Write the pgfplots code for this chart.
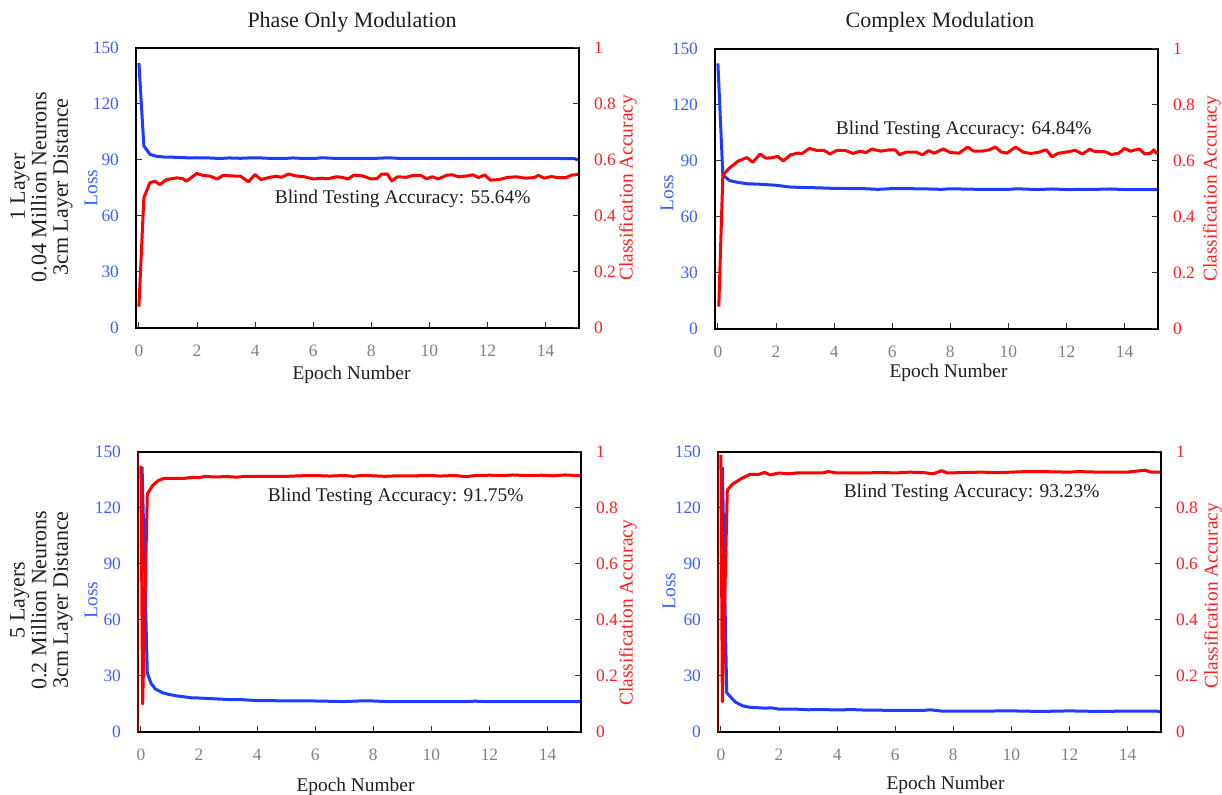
\documentclass[border=0pt]{standalone}
\usepackage{pgfplots}
\pgfplotsset{compat=1.18}
\usepackage{fontspec}
\setmainfont{Liberation Serif}
\definecolor{lossblue}{RGB}{30,60,255}
\definecolor{losstext}{RGB}{60,95,255}
\definecolor{accred}{RGB}{255,0,0}
\definecolor{acctext}{RGB}{255,30,30}
\definecolor{darkred}{RGB}{120,0,0}
\definecolor{txt}{RGB}{30,30,30}
\pgfplotsset{
 common/.style={scale only axis, width=221.5pt, height=140pt, xmin=-0.1, xmax=15.15,
   anchor=south west, tick align=inside, major tick length=3pt,
   tick style={black!80, line width=0.5pt},
   /pgf/number format/assume math mode=true,
   ticklabel style={font=\rmfamily\fontsize{8.7}{10}\selectfont},
   xticklabel={\textrm{\pgfmathprintnumber{\tick}}}, yticklabel={\textrm{\pgfmathprintnumber{\tick}}},
   clip=false},
 lossax/.style={common, ymin=0, ymax=150, ytick={0,30,60,90,120,150}, xtick={0,2,...,14},
   xtick pos=bottom, ytick pos=left, axis line style={line width=1.2pt, black},
   yticklabel style={text=losstext, xshift=-5pt}, xticklabel style={text=gray, yshift=-5pt}},
 accax/.style={common, ymin=0, ymax=1, ytick={0,0.2,0.4,0.6,0.8,1},
   axis y line*=right, axis x line=none, axis line style={line width=1.2pt, black},
   yticklabel style={text=acctext, xshift=4pt}},
 lossline/.style={lossblue, line width=1.5pt, line join=round},
 accline/.style={accred, line width=1.5pt, line join=round},
}
\newcommand{\lab}{\fontsize{9.7}{11}\selectfont}
\newcommand{\bigf}{\fontsize{11}{10.8}\selectfont}
\begin{document}
\begin{tikzpicture}
\useasboundingbox (0,0) rectangle (611pt,397.5pt);
% ---------------- TOP LEFT ----------------
\begin{axis}[lossax, name=tl, at={(68pt,233.5pt)}]
\addplot[lossline] coordinates {(0,142) (0.17,97.5) (0.38,93) (0.6,92) (0.85,91.6) (1.1,91.5) (1.4,91.4) (1.7,91.1) (2,91.2) (2.4,91.1) (2.8,90.8) (3.1,91.1) (3.5,90.9) (3.8,91.1) (4.2,91.1) (4.6,90.8) (5,90.8) (5.3,91.1) (5.7,90.8) (6.1,90.9) (6.3,91.2) (6.7,90.9) (7.2,90.9) (7.7,90.9) (8.2,90.9) (8.6,91.2) (9,90.8) (9.5,90.8) (10,90.8) (10.5,90.8) (11,90.8) (11.5,90.8) (12,90.8) (12.5,90.8) (13,90.8) (13.5,90.8) (14,90.8) (14.5,90.8) (15,90.7) (15.12,90.0)};
\node[txt, font=\lab] at (axis cs:9.08,69.4) {Blind Testing Accuracy: 55.64\%};
\end{axis}
\begin{axis}[accax, at={(68pt,233.5pt)}]
\addplot[accline] coordinates {(0,0.076) (0.17,0.465) (0.38,0.519) (0.55,0.524) (0.72,0.512) (0.95,0.53) (1.3,0.536) (1.5,0.534) (1.64,0.524) (1.99,0.552) (2.2,0.545) (2.45,0.542) (2.7,0.532) (2.9,0.545) (3.2,0.543) (3.5,0.542) (3.77,0.522) (4.0,0.548) (4.2,0.53) (4.5,0.538) (4.75,0.542) (4.9,0.538) (5.15,0.55) (5.4,0.543) (5.7,0.54) (6.0,0.532) (6.3,0.535) (6.5,0.533) (6.8,0.54) (7.0,0.538) (7.2,0.532) (7.4,0.546) (7.7,0.543) (8.0,0.532) (8.2,0.534) (8.35,0.549) (8.55,0.55) (8.7,0.525) (8.9,0.54) (9.2,0.538) (9.4,0.544) (9.7,0.545) (9.9,0.533) (10.1,0.54) (10.3,0.532) (10.6,0.546) (10.8,0.547) (11.0,0.54) (11.3,0.543) (11.5,0.547) (11.7,0.537) (11.9,0.547) (12.1,0.528) (12.4,0.53) (12.7,0.538) (13.0,0.54) (13.3,0.535) (13.6,0.537) (13.75,0.545) (13.95,0.535) (14.2,0.541) (14.4,0.537) (14.7,0.537) (14.9,0.546) (15.12,0.548)};
\end{axis}
% ---------------- TOP RIGHT ----------------
\begin{axis}[lossax, name=tr, at={(357.5pt,233pt)}]
\addplot[lossline] coordinates {(0,142.3) (0.17,82.5) (0.4,79.5) (0.7,78.5) (1.0,77.8) (1.5,77.5) (2,77) (2.5,76) (3,75.8) (3.5,75.6) (4,75.3) (5,75.2) (5.5,74.8) (6,75.2) (7,75.1) (7.7,74.8) (8,75.1) (9,74.8) (10,74.8) (10.3,75.1) (11,74.7) (11.5,75.0) (12,74.7) (13,74.8) (13.5,75) (14,74.7) (15,74.7) (15.12,74.7)};
\node[txt, font=\lab] at (axis cs:8.46,106.6) {Blind Testing Accuracy: 64.84\%};
\end{axis}
\begin{axis}[accax, at={(357.5pt,233pt)}]
\addplot[accline] coordinates {(0.03,0.08) (0.17,0.55) (0.4,0.575) (0.7,0.6) (1.0,0.612) (1.2,0.595) (1.45,0.625) (1.65,0.61) (1.9,0.612) (2.05,0.617) (2.25,0.6) (2.5,0.622) (2.75,0.628) (2.9,0.627) (3.15,0.645) (3.4,0.638) (3.65,0.638) (3.85,0.625) (4.1,0.638) (4.4,0.637) (4.65,0.627) (4.9,0.635) (5.1,0.63) (5.3,0.643) (5.6,0.635) (5.9,0.64) (6.1,0.64) (6.25,0.623) (6.5,0.632) (6.8,0.632) (7.05,0.622) (7.25,0.637) (7.45,0.628) (7.75,0.643) (8.0,0.63) (8.3,0.628) (8.6,0.65) (8.8,0.635) (9.1,0.635) (9.35,0.64) (9.55,0.65) (9.75,0.632) (9.95,0.628) (10.25,0.65) (10.5,0.632) (10.75,0.627) (11.0,0.63) (11.3,0.64) (11.5,0.615) (11.7,0.627) (12.0,0.632) (12.3,0.638) (12.55,0.625) (12.8,0.642) (13.0,0.633) (13.3,0.634) (13.55,0.623) (13.8,0.628) (14.0,0.645) (14.2,0.635) (14.5,0.643) (14.7,0.625) (14.9,0.628) (15.0,0.64) (15.12,0.625)};
\end{axis}
% ---------------- BOTTOM LEFT ----------------
\begin{axis}[lossax, name=bl, at={(69pt,31.5pt)}]
\addplot[lossline] coordinates {(0.04,142) (0.22,31.5) (0.35,26) (0.5,23) (0.75,21) (1.0,20) (1.25,19.3) (1.5,18.8) (1.75,18.3) (2,18.2) (2.5,17.8) (3,17.4) (3.5,17.3) (4,16.8) (4.5,16.8) (5,16.6) (6,16.6) (7,16.3) (7.5,16.6) (8,16.6) (8.6,16.2) (9,16.2) (10,16.2) (11,16.2) (11.5,16.5) (12,16.2) (13,16.2) (14,16.2) (15.12,16.2)};
\node[txt, font=\lab] at (axis cs:8.77,125.9) {Blind Testing Accuracy: 91.75\%};
\end{axis}
\begin{axis}[accax, at={(69pt,31.5pt)}]
\addplot[accline] coordinates {(0,0.95) (0.06,0.1) (0.22,0.85) (0.4,0.88) (0.6,0.898) (0.8,0.906) (1.0,0.906) (1.5,0.906) (1.8,0.91) (2.0,0.908) (2.2,0.913) (2.5,0.911) (3,0.912) (3.3,0.91) (3.6,0.913) (4,0.913) (5,0.913) (5.5,0.915) (6,0.916) (6.5,0.914) (7,0.916) (7.3,0.913) (7.6,0.916) (8,0.915) (8.4,0.913) (8.8,0.915) (9.5,0.915) (10,0.916) (10.3,0.914) (10.8,0.916) (11.2,0.912) (11.5,0.916) (12,0.917) (12.5,0.916) (12.8,0.918) (13.2,0.916) (13.8,0.917) (14.2,0.915) (14.6,0.918) (15.12,0.915)};
\end{axis}
% ---------------- BOTTOM RIGHT ----------------
\begin{axis}[lossax, name=br, at={(359pt,31.5pt)}]
\addplot[lossline] coordinates {(0.05,142) (0.2,21) (0.35,18.5) (0.5,16) (0.75,14) (1.0,13.2) (1.5,12.8) (1.75,12.9) (2,12.2) (2.5,12.3) (3,11.9) (3.5,12) (4,11.8) (4.5,12) (5,11.7) (6,11.6) (7,11.6) (7.2,11.9) (7.6,11.2) (8,11.2) (9,11.2) (10,11.3) (11,11) (12,11.3) (13,11) (14,11.2) (15,11.2) (15.12,10.8)};
\node[txt, font=\lab] at (axis cs:8.63,128) {Blind Testing Accuracy: 93.23\%};
\end{axis}
\begin{axis}[accax, at={(359pt,31.5pt)}]
\addplot[accline] coordinates {(0.0,0.99) (0.05,0.108) (0.22,0.864) (0.4,0.885) (0.7,0.905) (1.0,0.92) (1.3,0.92) (1.5,0.927) (1.7,0.918) (2.0,0.925) (2.3,0.922) (2.6,0.925) (3,0.925) (3.5,0.925) (3.7,0.93) (4,0.925) (5,0.925) (5.5,0.927) (6,0.925) (6.5,0.928) (7,0.926) (7.3,0.922) (7.6,0.933) (7.8,0.925) (8.5,0.927) (9,0.928) (9.5,0.926) (10,0.928) (10.5,0.93) (11,0.93) (12,0.928) (12.3,0.93) (13,0.928) (14,0.928) (14.6,0.935) (14.8,0.928) (15.12,0.928)};
\end{axis}
% dark red left spines (bottom panels)
\draw[darkred, line width=1.2pt] (bl.south west) -- (bl.north west);
\draw[darkred, line width=1.2pt] (br.south west) -- (br.north west);
% ---------------- labels ----------------
\node[rotate=90, text=losstext, font=\lab] at ([xshift=-22.5pt]tl.west) {Loss};
\node[rotate=90, text=acctext, font=\lab] at ([xshift=24.5pt]tl.east) {Classification Accuracy};
\node[txt, font=\lab] at ([xshift=-3pt,yshift=-23.5pt]tl.south) {Epoch Number};
\node[rotate=90, text=losstext, font=\lab] at ([xshift=-24pt,yshift=-2pt]tr.west) {Loss};
\node[rotate=90, text=acctext, font=\lab] at ([xshift=27pt]tr.east) {Classification Accuracy};
\node[txt, font=\lab] at ([xshift=6pt,yshift=-22pt]tr.south) {Epoch Number};
\node[rotate=90, text=losstext, font=\lab] at ([xshift=-23.5pt,yshift=-4pt]bl.west) {Loss};
\node[rotate=90, text=acctext, font=\lab] at ([xshift=23.5pt,yshift=-10.5pt]bl.east) {Classification Accuracy};
\node[txt, font=\lab] at ([xshift=-2pt,yshift=-27.5pt]bl.south) {Epoch Number};
\node[rotate=90, text=losstext, font=\lab] at ([xshift=-24.5pt,yshift=0.5pt]br.west) {Loss};
\node[rotate=90, text=acctext, font=\lab] at ([xshift=26pt,yshift=-2pt]br.east) {Classification Accuracy};
\node[txt, font=\lab] at ([xshift=3pt,yshift=-26.5pt]br.south) {Epoch Number};
% titles and row labels
\node[txt, font=\bigf] at (176pt,386.5pt) {Phase Only Modulation};
\node[txt, font=\bigf] at (470pt,386.5pt) {Complex Modulation};
\node[txt, font=\bigf, rotate=90, align=center] at (20.75pt,304pt) {1 Layer\\0.04 Million Neurons\\3cm Layer Distance};
\node[txt, font=\bigf, rotate=90, align=center] at (20.75pt,97.5pt) {5 Layers\\0.2 Million Neurons\\3cm Layer Distance};
\end{tikzpicture}
\end{document}
